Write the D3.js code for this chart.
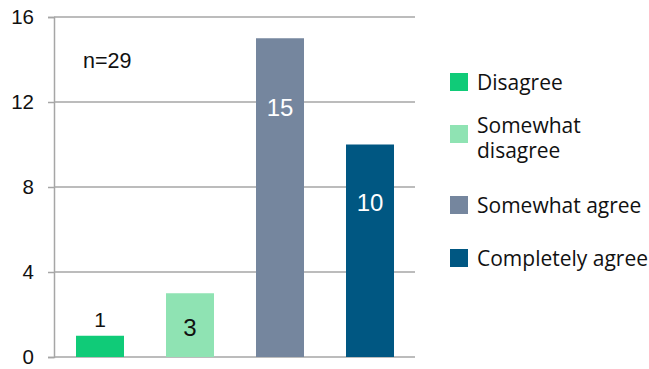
<!DOCTYPE html>
<html>
<head>
<meta charset="utf-8">
<script src="https://cdn.jsdelivr.net/npm/d3@7"></script>
<style>
  body { margin: 0; background: #fff; }
  svg { display: block; }
</style>
</head>
<body>
<script>
// data
const categories = ["Disagree", "Somewhat disagree", "Somewhat agree", "Completely agree"];
const counts = [1, 3, 15, 10];
const colors = ["#10cb78", "#8fe3b3", "#75869e", "#005782"];
const labelColors = ["#111", "#111", "#fff", "#fff"];
const labelAt = [1.76, 1.39, 11.72, 7.25]; // where the value label sits, in axis units
const yTicks = [0, 4, 8, 12, 16];
const legendLines = [["Disagree"], ["Somewhat", "disagree"], ["Somewhat agree"], ["Completely agree"]];
const note = "n=29";

let width = 649;
let height = 369;

let svg = d3.select("body").append("svg")
  .attr("width", width)
  .attr("height", height);

/* scales */
let x = d3.scaleBand()
  .domain(categories)
  .range([55, 415])
  .paddingInner(0.4667)
  .paddingOuter(0.2333);

let y = d3.scaleLinear()
  .domain([0, 16])
  .range([357, 17]);

/* grid + axis */
let axisY = d3.axisLeft(y).tickValues(yTicks).tickSize(6).tickPadding(14);
let gAxis = svg.append("g")
  .attr("transform", "translate(54,0)")
  .call(axisY);
gAxis.select(".domain").attr("stroke", "#a6a6a6").attr("stroke-width", 1.5);
gAxis.selectAll(".tick line").attr("stroke", "#a6a6a6").attr("stroke-width", 1.5);
gAxis.selectAll(".tick text")
  .attr("fill", "#111")
  .style("font-family", "'Liberation Sans', Arial, sans-serif")
  .style("font-size", "20.5px");

svg.append("g").selectAll("line")
  .data(yTicks)
  .join("line")
  .attr("x1", 54)
  .attr("x2", 415)
  .attr("y1", d => y(d))
  .attr("y2", d => y(d))
  .attr("stroke", "#a6a6a6")
  .attr("stroke-width", 1.5);

/* bars */
svg.append("g").selectAll("rect")
  .data(counts)
  .join("rect")
  .attr("x", (d, i) => x(categories[i]))
  .attr("y", d => y(d))
  .attr("width", x.bandwidth())
  .attr("height", d => y(0) - y(d))
  .attr("fill", (d, i) => colors[i]);

svg.append("g").selectAll("text")
  .data(counts)
  .join("text")
  .attr("x", (d, i) => x(categories[i]) + x.bandwidth() / 2)
  .attr("y", (d, i) => y(labelAt[i]))
  .attr("dy", "0.35em")
  .attr("text-anchor", "middle")
  .attr("fill", (d, i) => labelColors[i])
  .style("font-family", "'Liberation Sans', Arial, sans-serif")
  .style("font-size", (d, i) => i === 0 ? "21px" : "24px")
  .text(d => d);

svg.append("text")
  .attr("x", 83)
  .attr("y", 68)
  .attr("fill", "#111")
  .style("font-family", "'Liberation Sans', Arial, sans-serif")
  .style("font-size", "21.5px")
  .text(note);

/* legend */
const legendY = [82, 134, 205, 258];
let legend = svg.append("g").selectAll("g")
  .data(categories)
  .join("g")
  .attr("transform", (d, i) => "translate(450," + legendY[i] + ")");

legend.append("rect")
  .attr("x", 0)
  .attr("y", -9)
  .attr("width", 18)
  .attr("height", 18)
  .attr("fill", (d, i) => colors[i]);

legend.append("text")
  .attr("fill", "#111")
  .style("font-family", "'Open Sans', sans-serif")
  .style("font-size", "21px")
  .selectAll("tspan")
  .data((d, i) => legendLines[i].map((t, j) => ({ t, j, n: legendLines[i].length })))
  .join("tspan")
  .attr("x", 27)
  .attr("y", d => d.j * 25 + (d.n > 1 ? -1 : 8))
  .text(d => d.t);
</script>
</body>
</html>
